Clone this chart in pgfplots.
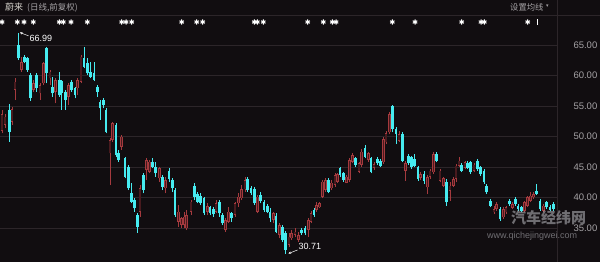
\documentclass[border=0pt]{standalone}
\usepackage{fontspec}
\setmainfont{Liberation Sans}
\newfontfamily\cjk{Noto Sans CJK SC}
\newfontfamily\dejavu{DejaVu Sans}
\usepackage{pgfplots}
\usepackage{pgfplotstable}
\pgfplotsset{compat=1.18}
\usetikzlibrary{arrows.meta}
\definecolor{bgc}{RGB}{17,13,16}
\definecolor{gridc}{RGB}{44,37,41}
\definecolor{upc}{RGB}{165,58,62}
\definecolor{upin}{RGB}{72,26,30}
\definecolor{dnc}{RGB}{70,235,240}
\definecolor{txtc}{RGB}{165,162,165}
\definecolor{wmc}{RGB}{190,190,196}

% x = horizontal position, bl/bh = body low/high, lo/hi = wick low/high
\pgfplotstableread{
x bl bh lo hi
2 50.90 53.64 50.52 54.35
5 51.89 53.25 51.34 53.64
12 52.43 54.51 51.89 54.89
15 57.62 58.99 55.99 59.54
21.7 60.90 62.16 60.63 63.09
33.3 57.62 58.72 57.35 59.26
40 57.08 58.44 55.99 58.72
43.3 58.72 62.00 58.44 62.27
50 59.54 60.63 58.44 60.90
55.7 57.35 59.26 55.44 59.54
68.3 56.53 58.44 55.17 58.72
77.7 57.90 59.26 56.80 59.54
81 58.99 63.09 58.72 63.36
110 47.24 49.43 42.05 49.70
112.7 49.43 52.16 49.15 52.43
121.7 48.33 49.97 47.79 50.25
140 37.68 41.50 36.86 42.05
146.7 44.51 46.15 42.87 46.42
149.3 44.24 45.88 43.96 46.15
159.3 43.14 44.78 42.60 45.06
165.7 41.50 42.87 40.68 43.42
178.3 36.04 37.68 35.22 38.77
181.7 35.49 36.59 34.95 36.86
184.3 35.49 36.86 34.95 37.68
186.7 34.94 37.13 34.67 37.95
191 37.67 39.31 37.13 39.59
207.3 37.67 38.60 37.13 39.04
216 37.67 39.04 37.40 39.59
225.7 34.67 36.31 34.40 36.58
228.3 36.04 37.67 35.76 38.49
235 37.13 39.04 36.85 39.31
238.3 39.04 40.13 38.49 40.68
241.7 39.86 41.34 39.59 42.05
245 41.34 42.87 40.95 43.30
257.7 37.67 40.13 37.40 40.41
273.3 36.31 37.40 35.76 37.67
279.3 33.85 35.49 33.30 35.76
289 32.21 33.58 31.94 34.12
291.7 33.30 34.12 33.03 34.67
295 33.85 34.40 33.47 34.94
298.3 33.03 33.85 32.76 34.40
308.3 34.67 36.31 33.58 36.58
311 36.04 37.40 35.76 37.84
316.7 37.95 38.77 37.67 39.31
319.3 38.38 39.04 38.22 39.31
322.7 40.13 42.59 39.86 42.87
325.7 41.23 42.87 40.95 43.14
331.7 41.50 42.43 41.23 42.87
335 42.05 43.69 41.77 44.07
337.3 42.59 43.85 42.32 44.07
346.7 42.43 43.41 42.32 43.69
349.3 42.87 46.14 42.59 46.42
352.7 45.87 46.96 45.60 47.24
359 44.23 45.60 43.96 45.87
361.7 45.32 47.51 45.05 47.89
368.3 46.14 47.24 45.87 47.51
374 44.82 45.48 44.49 45.75
383.3 45.75 49.58 45.48 49.85
386 49.03 50.51 48.76 50.94
389.3 50.67 53.68 50.40 53.95
399 49.30 50.40 49.03 50.94
405.3 44.39 45.59 42.75 45.92
420.7 43.18 43.84 42.86 44.11
427.3 41.65 43.40 40.56 43.73
430 43.40 44.39 43.02 44.66
433.3 44.11 47.12 43.84 47.39
440 42.75 44.39 42.47 44.66
443.3 41.93 43.18 41.65 43.40
450 41.11 41.93 39.47 42.47
453.3 41.93 43.02 41.65 43.29
456 43.02 45.21 42.47 45.48
459 45.21 46.03 44.93 46.68
465 44.82 45.75 44.60 46.03
474 44.39 45.37 44.11 45.59
494 37.56 38.10 37.28 38.65
496.7 38.10 38.92 37.83 39.19
503.3 36.74 38.10 36.46 38.37
506 37.56 38.37 37.28 38.65
512.7 38.26 38.92 38.05 39.19
524.7 37.83 39.19 37.56 39.47
527.3 38.65 40.01 38.37 40.29
530.7 39.47 40.29 39.19 40.83
533.3 40.01 40.56 39.74 40.83
543.3 37.83 38.65 37.56 38.92
}\up

\pgfplotstableread{
x bl bh lo hi
9.3 50.79 54.35 49.15 55.27
18.3 62.82 65.00 62.54 66.99
24.3 62.27 63.09 62.00 63.36
27.7 60.90 62.82 60.63 63.09
30.7 56.26 60.08 55.82 60.36
36.7 57.90 60.08 57.35 60.36
46.7 60.36 64.46 58.72 64.73
52.7 57.08 58.17 56.53 59.81
59.3 56.80 59.26 56.53 60.63
61.7 57.08 59.10 54.35 59.26
65.7 55.99 57.35 54.35 57.62
71.7 57.62 58.99 57.35 59.26
75 56.80 57.90 56.26 58.17
84 61.45 62.82 61.18 64.73
87.3 60.36 62.00 60.08 62.82
90.7 59.81 60.63 59.54 62.27
94 59.26 60.36 59.10 62.27
97.3 57.35 58.17 56.53 58.44
100 54.62 55.71 52.71 55.99
103.3 55.17 55.99 54.62 56.26
106 50.79 54.35 50.52 54.62
116 46.97 51.89 46.70 52.16
118.7 46.15 47.24 45.88 47.79
125 43.42 46.42 43.14 46.70
128.3 41.50 45.06 41.23 45.33
131.3 39.32 40.68 39.05 42.32
134.3 38.23 39.59 37.68 39.87
137.3 35.22 37.13 34.20 37.41
143.3 41.23 43.69 40.68 43.96
152.7 45.06 45.88 44.78 46.42
155.7 43.96 45.06 43.42 45.88
162.3 41.78 43.42 41.23 43.69
169 43.03 44.35 42.60 44.78
172.3 41.50 42.87 40.96 43.14
175 37.13 41.23 36.86 41.50
194.3 40.13 41.88 39.59 42.32
197.7 39.31 40.57 39.04 40.95
200.7 39.04 40.24 38.77 40.68
204 37.40 39.86 37.13 40.13
210 37.40 38.38 37.13 38.60
213.3 37.29 38.06 36.85 38.49
219.3 37.40 39.31 36.85 39.59
222.7 35.76 37.13 35.49 37.40
231.7 36.58 37.40 36.04 37.67
247.7 41.23 43.08 40.95 43.41
251 40.68 41.50 40.41 41.88
254.3 39.04 41.34 38.77 41.66
260.7 39.48 40.41 39.04 40.95
264 37.95 39.31 37.67 39.59
267.3 37.67 38.60 37.40 38.93
270 36.58 37.67 36.04 38.22
276 34.40 36.96 34.12 37.40
282.3 33.03 35.22 32.76 35.49
285.7 31.39 34.23 30.71 34.56
301.7 34.12 34.67 33.85 34.94
305 34.12 34.94 33.85 35.32
314 37.13 37.95 36.85 38.22
328.3 40.95 42.87 40.68 43.14
340 43.69 44.78 43.41 45.05
343.3 42.87 43.96 42.59 44.23
355.7 45.32 46.42 45.05 46.69
365 46.69 48.06 46.42 48.60
371 44.23 46.42 43.96 46.69
377.3 45.59 46.30 45.37 46.57
380.7 45.21 46.03 45.04 46.30
392.7 51.22 55.04 50.67 55.21
396 50.40 51.22 48.76 51.49
402.3 46.03 50.40 45.75 50.67
408.3 45.59 46.84 45.37 47.12
411.3 44.93 46.57 44.66 46.84
414.7 45.21 46.30 44.93 47.12
418 43.02 44.93 42.75 45.21
424 42.75 43.84 42.20 44.39
436.7 46.03 47.12 45.75 47.39
446.7 39.19 42.47 38.65 43.02
461.7 44.39 45.37 44.11 45.59
467.3 44.82 45.59 44.66 45.92
470.7 44.11 45.75 43.84 46.03
477.3 44.66 45.92 44.39 46.30
480.7 43.84 44.93 43.57 45.21
484 42.47 44.39 42.20 44.66
486.7 40.83 41.93 40.56 42.20
490.7 38.65 39.47 38.37 39.74
500 36.46 38.10 36.19 38.37
509.3 38.92 39.47 38.65 39.74
515.3 38.92 39.74 38.65 40.01
518 38.10 38.65 37.83 38.92
521.3 37.83 38.37 37.56 38.65
536.7 40.56 41.11 40.45 42.20
540 38.10 39.47 37.83 39.74
546.7 38.37 39.19 38.10 39.47
550 37.94 38.48 37.72 38.76
553.3 38.10 38.92 37.83 39.19
}\dn

\pgfplotstableread{
x y
2 68.77
17.3 68.77
24 68.77
33.3 68.77
59.3 68.77
63.3 68.77
71 68.77
87.3 68.77
121.7 68.77
126 68.77
131.7 68.77
181.7 68.77
196.7 68.77
202.7 68.77
254.3 68.77
257.3 68.77
263.3 68.77
307.7 68.77
323.3 68.77
332.3 68.77
336 68.77
392.3 68.77
415 68.77
461.7 68.77
481 68.77
484.3 68.77
527.7 68.77
}\stars

\pgfplotstableread{
x y
537.3 68.77
}\flag

\begin{document}
\begin{tikzpicture}[x=1pt,y=1pt]
\useasboundingbox (0,0) rectangle (600,262);
\fill[bgc] (0,0) rectangle (600,262);
\draw[gridc, line width=0.8pt] (0,247) -- (600,247);
\draw[gridc, line width=0.8pt] (557,0) -- (557,262);
\begin{axis}[
  at={(0,0)}, anchor=south west, scale only axis,
  width=557pt, height=247pt,
  xmin=0, xmax=557, ymin=29.43, ymax=69.92,
  clip=false,
  axis line style={draw=none},
  xtick=\empty,
  ytick={35,40,45,50,55,60,65},
  ymajorgrids, grid style={gridc, line width=0.8pt},
  yticklabel pos=right, major tick length=0pt,
  yticklabel style={font=\fontsize{9.5}{10}\selectfont, text=txtc, anchor=west, xshift=13pt},
  /pgf/number format/fixed, /pgf/number format/fixed zerofill,
  /pgf/number format/precision=2, /pgf/number format/assume math mode=true,
]
% wicks
\addplot[forget plot, draw=none, mark=none, error bars/.cd, y dir=plus, y explicit, error mark=none,
  error bar style={draw=upc, line width=0.7pt}]
  table[x=x, y=lo, y error expr=\thisrow{hi}-\thisrow{lo}] {\up};
\addplot[forget plot, draw=none, mark=none, error bars/.cd, y dir=plus, y explicit, error mark=none,
  error bar style={draw=dnc, line width=0.7pt}]
  table[x=x, y=lo, y error expr=\thisrow{hi}-\thisrow{lo}] {\dn};
% bodies
\addplot[forget plot, draw=none, mark=none, error bars/.cd, y dir=plus, y explicit, error mark=none,
  error bar style={draw=upc, line width=2.8pt}]
  table[x=x, y=bl, y error expr=\thisrow{bh}-\thisrow{bl}] {\up};
\addplot[forget plot, draw=none, mark=none, error bars/.cd, y dir=plus, y explicit, error mark=none,
  error bar style={draw=upin, line width=1.3pt}]
  table[x=x, y expr=\thisrow{bl}+0.12, y error expr={max(\thisrow{bh}-\thisrow{bl}-0.24,0)}] {\up};
\addplot[forget plot, draw=none, mark=none, error bars/.cd, y dir=plus, y explicit, error mark=none,
  error bar style={draw=dnc, line width=2.8pt}]
  table[x=x, y=bl, y error expr=\thisrow{bh}-\thisrow{bl}] {\dn};
% event markers
\addplot[only marks, mark=asterisk, mark size=2.6pt, white, line width=1pt] table {\stars};
\addplot[only marks, mark=*, mark size=1.4pt, white] table {\stars};
\addplot[only marks, mark=|, mark size=3pt, white, line width=1.1pt] table {\flag};
% annotations
\node[anchor=west, inner sep=0pt, white, font=\fontsize{9}{10}\selectfont] at (axis cs:29.5,66.15) {66.99};
\draw[white, line width=0.5pt, -{Stealth[length=2.5pt,width=2.5pt]}] (axis cs:28.5,66.5) -- (axis cs:20,67.05);
\node[anchor=west, inner sep=0pt, white, font=\fontsize{9}{10}\selectfont] at (axis cs:298.5,31.97) {30.71};
\draw[white, line width=0.5pt, -{Stealth[length=2.5pt,width=2.5pt]}] (axis cs:297.5,31.4) -- (axis cs:288.5,30.82);
\end{axis}
% title row
\node[anchor=west, inner sep=0pt, text={rgb,255:red,215;green,212;blue,205}, font=\cjk\fontsize{9}{9}\selectfont] at (5,254.7) {蔚来};
\node[anchor=west, inner sep=0pt, text=txtc, font=\cjk\fontsize{8.5}{9}\selectfont] at (27,254.7) {(日线,前复权)};
\node[anchor=west, inner sep=0pt, text=txtc, font=\cjk\fontsize{8.3}{9}\selectfont] at (510,255) {设置均线};
\node[anchor=west, inner sep=0pt, text=txtc, font=\dejavu\fontsize{5}{6}\selectfont] at (546,256) {▾};
% watermark
\node[anchor=west, inner sep=0pt, text=wmc, opacity=0.55, font=\cjk\bfseries\fontsize{15}{16}\selectfont] at (511,44) {汽车经纬网};
\node[anchor=west, inner sep=0pt, text=wmc, opacity=0.55, font=\fontsize{9}{10}\selectfont] at (487,26) {www.qichejingwei.com};
\end{tikzpicture}
\end{document}
